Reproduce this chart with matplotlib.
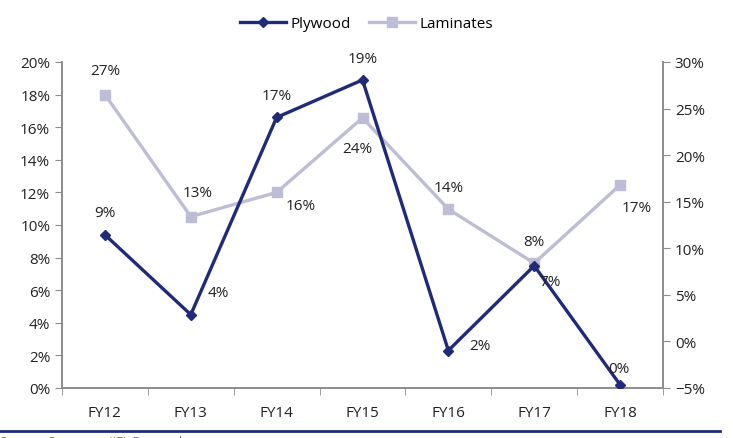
import matplotlib.pyplot as plt
from matplotlib.ticker import PercentFormatter
from matplotlib.lines import Line2D

plt.rcParams['font.family'] = ['Open Sans', 'DejaVu Sans']

# Data
years = ['FY12', 'FY13', 'FY14', 'FY15', 'FY16', 'FY17', 'FY18']
plywood = [9.4, 4.5, 16.6, 18.9, 2.3, 7.5, 0.2]
laminates = [26.5, 13.4, 16.0, 24.0, 14.2, 8.4, 16.8]
plywood_labels = ['9%', '4%', '17%', '19%', '2%', '7%', '0%']
laminates_labels = ['27%', '13%', '16%', '24%', '14%', '8%', '17%']

navy = '#1f2a78'
lav = '#bdbdd5'
grey = '#8c8c8c'
txt = '#222222'

fig = plt.figure(figsize=(7.33, 4.39), dpi=100)
ax1 = fig.add_axes([62/733, 1 - 389/439, (663-62)/733, (389-63)/439])
ax2 = ax1.twinx()

x = list(range(len(years)))
ax1.plot(x, plywood, color=navy, lw=2.4, marker='D', ms=5, zorder=3)
ax2.plot(x, laminates, color=lav, lw=2.4, marker='s', ms=7.5, zorder=2)
ax1.set_zorder(ax2.get_zorder() + 1)
ax1.patch.set_visible(False)

ax1.set_xlim(-0.5, 6.5)
ax1.set_ylim(0, 20)
ax1.set_yticks(range(0, 21, 2))
ax1.yaxis.set_major_formatter(PercentFormatter(decimals=0))
ax2.set_ylim(-5, 30)
ax2.set_yticks(range(-5, 31, 5))
ax2.yaxis.set_major_formatter(PercentFormatter(decimals=0))

ax1.set_xticks(x)
ax1.set_xticklabels(years)
ax1.set_xticks([i + 0.5 for i in range(-1, 7)], minor=True)
ax1.tick_params(axis='x', which='major', length=0, pad=12, labelsize=11, colors=txt)
ax1.tick_params(axis='x', which='minor', length=5, color=grey, direction='out')
ax1.tick_params(axis='y', length=5, color=grey, labelsize=11, labelcolor=txt)
ax2.tick_params(axis='y', length=5, color=grey, labelsize=11, labelcolor=txt)

for a in (ax1, ax2):
    a.spines['top'].set_visible(False)
    for s in ('left', 'right', 'bottom'):
        a.spines[s].set_color(grey)
        a.spines[s].set_linewidth(1.2)

# data labels (offsets in pixels, y up)
ply_off = [(0, 22), (28, 22), (0, 22), (0, 21), (32, 5), (16, -16), (-1, 16)]
lam_off = [(0, 24), (7, 24), (24, -13), (-5, -31), (0, 22), (0, 22), (17, -23)]
for i in x:
    ax1.annotate(plywood_labels[i], (i, plywood[i]), xytext=ply_off[i],
                 textcoords='offset pixels', ha='center', va='center',
                 fontsize=11, color=txt)
    ax2.annotate(laminates_labels[i], (i, laminates[i]), xytext=lam_off[i],
                 textcoords='offset pixels', ha='center', va='center',
                 fontsize=11, color=txt)

handles = [Line2D([], [], color=navy, lw=2.4, marker='D', ms=5),
           Line2D([], [], color=lav, lw=2.4, marker='s', ms=7.5)]
fig.legend(handles, ['Plywood', 'Laminates'], loc='center', ncol=2,
           bbox_to_anchor=(0.5, 1 - 25/439), frameon=False, fontsize=11,
           handlelength=3, columnspacing=1.2, handletextpad=0.3)

# footer rule and cut-off source note
fig.add_artist(Line2D([0, 720/733], [1 - 432/439] * 2, color=navy, lw=2,
                      transform=fig.transFigure))
fig.text(0.0, 1 - 449/439, 'Source: Company, IIFL Research', fontsize=9,
         color='#777777', va='bottom', ha='left')

fig.savefig('out.png', dpi=100)
